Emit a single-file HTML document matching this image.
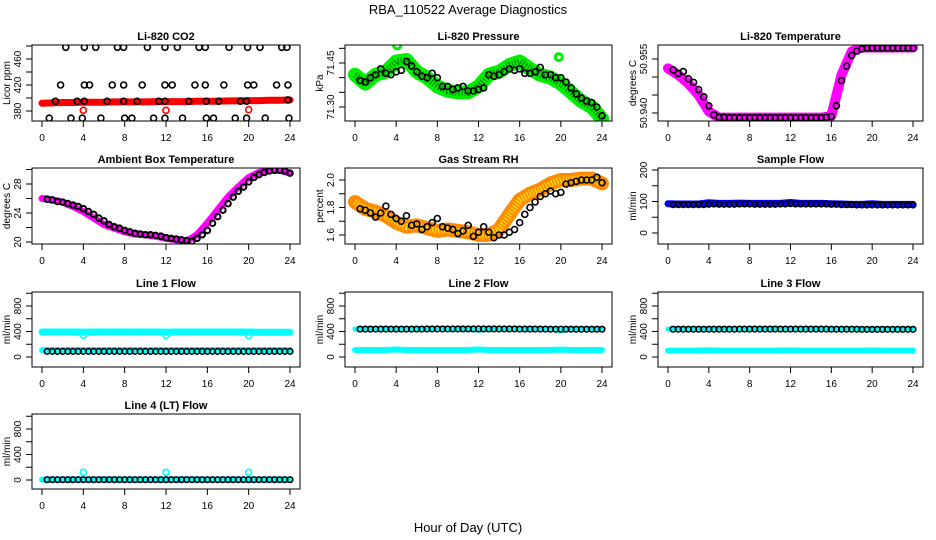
<!DOCTYPE html>
<html><head><meta charset="utf-8"><style>
body{margin:0;background:#fff;}
svg{display:block;font-family:"Liberation Sans",sans-serif;}
</style></head><body>
<svg id="chart" width="936" height="540" viewBox="0 0 936 540" xmlns="http://www.w3.org/2000/svg">
<rect width="936" height="540" fill="#fff"/>
<text x="468" y="14" text-anchor="middle" font-size="13">RBA_110522  Average Diagnostics</text>
<text x="468" y="532" text-anchor="middle" font-size="13">Hour of Day (UTC)</text>
</svg>
<script>
// ---- data ----
const xTicks = [0,4,8,12,16,20,24];
const trackHours = [0,1,2,3,4,5,6,7,8,9,10,11,12,13,14,15,16,17,18,19,20,21,22,23,24];
const blackHours = [0.5,1,1.5,2,2.5,3,3.5,4,4.5,5,5.5,6,6.5,7,7.5,8,8.5,9,9.5,10,10.5,11,11.5,12,12.5,13,13.5,14,14.5,15,15.5,16,16.5,17,17.5,18,18.5,19,19.5,20,20.5,21,21.5,22,22.5,23,23.5,24];

// CO2
const co2Track = [392,392.5,393,393,393.5,393.5,393.5,394,394,394,394,394.5,394.5,394.5,394.5,395,395,395,395.5,395.5,396,396,396.5,396.5,397];
const co2BlackHours = [2.3,4.1,5.2,7.3,7.9,10.2,11.9,13.1,15.2,15.8,18.1,19.9,21.1,23.2,23.7, 1.8,4.1,4.6,6.8,7.9,9.7,11.9,12.6,14.8,15.8,17.6,19.9,20.5,22.7,23.8, 1.3,3.4,4.1,6.3,7.9,9.2,11.3,11.9,14.2,15.9,17.1,19.2,19.8,23.8, 0.7,2.8,3.9,5.7,8.0,8.7,10.8,11.9,13.6,15.9,16.6,18.7,19.8,21.6,23.9];
const co2BlackVals = [478,478,478,478,478,478,478,478,478,478,478,478,478,478,478, 420,420,420,420,420,420,420,420,420,420,420,420,420,420,420, 395,395,395,395,395,395,395,395,395,395,395,395,395,397, 369,369,369,369,369,369,369,369,369,369,369,369,369,369,369];
const co2OutHours = [4,12,20];
const co2OutVals = [381,381,382];

// Pressure
const presTrack = [71.41,71.38,71.41,71.42,71.455,71.46,71.42,71.40,71.37,71.355,71.35,71.35,71.37,71.41,71.42,71.443,71.455,71.43,71.41,71.40,71.38,71.35,71.32,71.30,71.26];
const presBlack = [71.39,71.385,71.40,71.41,71.43,71.415,71.41,71.42,71.425,71.455,71.44,71.42,71.405,71.40,71.415,71.40,71.37,71.37,71.36,71.365,71.37,71.355,71.355,71.36,71.365,71.41,71.405,71.41,71.42,71.43,71.425,71.43,71.415,71.415,71.42,71.435,71.41,71.41,71.40,71.40,71.385,71.365,71.345,71.33,71.32,71.315,71.30,71.27];
const presOutHours = [4.1,19.8];
const presOutVals = [71.51,71.47];

// Li-820 temperature
const ltTrack = [50.9524,50.9506,50.9482,50.9450,50.9404,50.9387,50.9387,50.9387,50.9387,50.9387,50.9387,50.9387,50.9387,50.9387,50.9387,50.9387,50.9392,50.9506,50.9571,50.9582,50.9582,50.9582,50.9582,50.9582,50.9582];
const ltBlack = [50.9520,50.9510,50.9515,50.9495,50.9485,50.9465,50.9445,50.9420,50.9395,50.9388,50.9388,50.9387,50.9387,50.9387,50.9387,50.9387,50.9387,50.9387,50.9387,50.9387,50.9387,50.9387,50.9387,50.9387,50.9387,50.9387,50.9387,50.9387,50.9387,50.9387,50.9388,50.9390,50.9420,50.9490,50.9530,50.9560,50.9572,50.9578,50.9580,50.9580,50.9580,50.9580,50.9580,50.9580,50.9580,50.9580,50.9580,50.9580];

// Ambient box temperature
const ambTrack = [26.0,25.8,25.5,24.9,24.2,23.3,22.4,21.9,21.4,21.1,21.0,20.8,20.5,20.3,20.1,21.0,22.6,24.4,26.2,27.6,28.9,29.6,29.9,29.9,29.5];
const ambBlack = [25.9,25.8,25.6,25.5,25.3,25.1,24.9,24.6,24.2,23.8,23.3,22.9,22.4,22.1,21.9,21.6,21.4,21.2,21.1,21.0,21.0,20.9,20.8,20.6,20.5,20.4,20.3,20.2,20.1,20.5,21.0,21.6,22.6,23.5,24.4,25.3,26.2,27.0,27.6,28.3,28.9,29.3,29.6,29.8,29.9,29.9,29.8,29.5];

// Gas stream RH
const rhTrack = [1.84,1.79,1.77,1.74,1.69,1.66,1.67,1.65,1.63,1.64,1.63,1.62,1.60,1.60,1.64,1.75,1.855,1.90,1.93,1.975,2.0,2.0,2.01,2.01,1.975];
const rhBlack = [1.79,1.78,1.76,1.73,1.76,1.81,1.75,1.72,1.70,1.74,1.67,1.68,1.64,1.66,1.69,1.72,1.66,1.65,1.64,1.61,1.63,1.67,1.59,1.62,1.66,1.62,1.58,1.60,1.60,1.62,1.64,1.69,1.75,1.80,1.84,1.88,1.90,1.92,1.90,1.91,1.97,1.98,1.99,2.00,2.00,2.00,2.02,1.98];

// Sample flow
const sfTrack = [93,92,92,92,96,94,94,95,94,94,94,94,97,94,94,94,93,92,91,91,93,91,91,91,91];
const sfBlack = [90,90,90,90,90,90,90,91,92,91,91,91,91,92,92,92,91,91,91,91,91,92,92,93,92,92,92,92,92,92,92,91,91,90,90,90,89,89,89,89,89,89,89,89,89,89,89,89];

// Line flows
const l1Upper = [392,392,392,392,390,392,392,392,392,392,392,392,390,392,392,392,392,392,392,392,392,388,388,388,388];
const l1Lower = [108,108,108,108,108,108,108,108,108,108,108,108,108,108,108,108,108,108,108,108,108,108,108,108,108];
const l1Black = [88,88,88,88,88,88,88,88,88,88,88,88,88,88,88,88,88,88,88,88,88,88,88,88,88,88,88,88,88,88,88,88,88,88,88,88,88,88,88,88,88,88,88,88,88,88,88,88];
const l1DipHours = [4,12,20];
const l1DipVals = [340,340,335];

const l2Upper = [440,440,440,440,430,440,440,440,440,440,440,440,420,440,440,440,440,440,440,440,410,440,440,440,440];
const l2Lower = [110,110,110,110,118,110,110,110,110,110,110,110,118,110,110,110,110,110,110,110,115,110,110,110,110];
const l2Black = [438,438,438,438,438,438,438,438,438,438,438,438,438,440,440,440,440,440,440,440,440,440,440,440,440,440,440,440,440,440,440,438,438,438,438,438,438,436,436,436,436,436,436,436,436,436,436,436];

const l3Upper = [440,440,440,440,432,440,440,440,440,440,440,440,432,440,440,440,440,440,440,440,430,440,440,440,440];
const l3Lower = [100,100,100,100,106,100,100,100,100,100,100,100,106,100,100,100,100,100,100,100,104,100,100,100,100];
const l3Black = [436,436,436,436,436,436,436,436,436,436,436,436,436,438,438,438,438,438,438,438,438,438,438,438,438,438,438,438,438,438,438,436,436,436,436,436,436,434,434,434,434,434,434,434,434,434,434,434];

const l4Track = [5,5,5,5,5,5,5,5,5,5,5,5,5,5,5,5,5,5,5,5,5,5,5,5,5];
const l4Black = [5,5,5,5,5,5,5,5,5,5,5,5,5,5,5,5,5,5,5,5,5,5,5,5,5,5,5,5,5,5,5,5,5,5,5,5,5,5,5,5,5,5,5,5,5,5,5,5];
const l4OutHours = [4,12,20];
const l4OutVals = [120,120,120];

// ---- layout ----
const svg = document.getElementById('chart');
const NS = 'http://www.w3.org/2000/svg';
const cols = [{x0:42,x24:290,l:32,r:300},{x0:355,x24:602,l:345,r:612},{x0:668,x24:913,l:658,r:923}];
const rows = [{t:45,b:121},{t:168,b:244},{t:292,b:367},{t:414,b:489}];
function mk(tag, attrs, parent){const e=document.createElementNS(NS,tag);for(const k in attrs)e.setAttribute(k,attrs[k]);(parent||svg).appendChild(e);return e;}

function panel(cfg){
  const c=cols[cfg.col], r=rows[cfg.row];
  const g=mk('g',{});
  
  
  const xs=h=>c.x0+(c.x24-c.x0)*h/24;
  const ys=v=>cfg.py1+(cfg.py2-cfg.py1)*(v-cfg.v1)/(cfg.v2-cfg.v1);
  const t=mk('text',{x:(c.l+c.r)/2,y:r.t-5,'text-anchor':'middle','font-size':'11','font-weight':'bold'},g);
  t.textContent=cfg.title;
  
  
  const xa=mk('g',{stroke:'#000','stroke-width':1},g);
  
  
  mk('line',{x1:xs(0),x2:xs(24),y1:r.b,y2:r.b},xa);
  xTicks.forEach(v=>{
    mk('line',{x1:xs(v),x2:xs(v),y1:r.b,y2:r.b+6},xa);
    const tx=mk('text',{x:xs(v),y:r.b+20,'text-anchor':'middle','font-size':'10',stroke:'none'},xa);
    tx.textContent=v;
  });
  const ya=mk('g',{stroke:'#000','stroke-width':1},g);
  
  
  mk('line',{x1:c.l,x2:c.l,y1:ys(cfg.ticks[0]),y2:ys(cfg.ticks[cfg.ticks.length-1])},ya);
  cfg.ticks.forEach((v,i)=>{
    const y=ys(v);
    mk('line',{x1:c.l-6,x2:c.l,y1:y,y2:y},ya);
    if(cfg.labels[i]!==''){
      const tx=mk('text',{x:c.l-11,y:y,'text-anchor':'middle','font-size':'10',stroke:'none',transform:`rotate(-90 ${c.l-11} ${y})`},ya);
      tx.textContent=cfg.labels[i];
    }
  });
  const yt=mk('text',{x:c.l-22,y:(r.t+r.b)/2,'text-anchor':'middle','font-size':'10',transform:`rotate(-90 ${c.l-22} ${(r.t+r.b)/2})`},g);
  yt.textContent=cfg.ylab;
  
  
  const cid='clip'+cfg.name;
  const cp=mk('clipPath',{id:cid},g);mk('rect',{x:c.l,y:r.t,width:c.r-c.l,height:r.b-r.t},cp);
  const dg=mk('g',{'clip-path':`url(#${cid})`},g);
  (cfg.series||[]).forEach(s=>{
    if(s.type==='band'){
      const pts=s.hours.map((h,i)=>xs(h)+','+ys(s.vals[i])).join(' ');
      const pl=mk('polyline',{points:pts,fill:'none',stroke:s.color,'stroke-width':s.w,'stroke-linejoin':'round','stroke-linecap':'round'},dg);
      
      
      if(s.dot){
        const pl2=mk('polyline',{points:pts,fill:'none',stroke:s.dot,'stroke-width':s.w*0.5,'stroke-dasharray':'1 2','stroke-linejoin':'round'},dg);
        
        
      }
    } else {
      s.hours.forEach((h,i)=>{
        if(s.vals[i]===undefined) return;
        const ci=mk('circle',{cx:xs(h),cy:ys(s.vals[i]),r:s.r||3,fill:'none',stroke:s.color,'stroke-width':s.sw||1.6},dg);
        
        
      });
    }
  });
  const box=mk('rect',{x:c.l,y:r.t,width:c.r-c.l,height:r.b-r.t,fill:'none',stroke:'#000','stroke-width':1},g);
  
  
}

const flowTicks=[0,200,400,600,800,1000], flowLabels=['0','','400','','800',''];
panel({name:'co2-panel',title:'Li-820 CO2',ylab:'Licor ppm',col:0,row:0,v1:380,v2:460,py1:111,py2:59,ticks:[380,400,420,440,460,480],labels:['380','','420','','460',''],
  series:[{type:'band',hours:trackHours,vals:co2Track,color:'#ff0000',w:7,name:'co2-band'},
    {type:'pts',hours:co2OutHours,vals:co2OutVals,color:'#ff0000',name:'co2-outlier'},
    {type:'pts',hours:co2BlackHours,vals:co2BlackVals,color:'#000',name:'co2-point'}]});
panel({name:'pressure-panel',title:'Li-820 Pressure',ylab:'kPa',col:1,row:0,v1:71.30,v2:71.45,py1:107,py2:63,ticks:[71.30,71.35,71.40,71.45,71.50],labels:['71.30','','','71.45',''],
  series:[{type:'band',hours:trackHours,vals:presTrack,color:'#00ee00',dot:'#007700',w:14,name:'pressure-band'},
    {type:'pts',hours:presOutHours,vals:presOutVals,color:'#00ee00',r:3.5,sw:3,name:'pressure-outlier'},
    {type:'pts',hours:blackHours,vals:presBlack,color:'#000',name:'pressure-point'}]});
panel({name:'li820-temp-panel',title:'Li-820 Temperature',ylab:'degrees C',col:2,row:0,v1:50.940,v2:50.955,py1:113,py2:59,ticks:[50.940,50.945,50.950,50.955],labels:['50.940','','','50.955'],
  series:[{type:'band',hours:trackHours,vals:ltTrack,color:'#ff00ff',w:10,name:'li820-temp-band'},
    {type:'pts',hours:blackHours,vals:ltBlack,color:'#000',name:'li820-temp-point'}]});
panel({name:'ambient-panel',title:'Ambient Box Temperature',ylab:'degrees C',col:0,row:1,v1:20,v2:28,py1:242,py2:184,ticks:[20,22,24,26,28,30],labels:['20','','24','','28',''],
  series:[{type:'band',hours:trackHours,vals:ambTrack,color:'#ff00ff',w:7,name:'ambient-band'},
    {type:'pts',hours:blackHours,vals:ambBlack,color:'#000',r:2.8,sw:2,name:'ambient-point'}]});
panel({name:'rh-panel',title:'Gas Stream RH',ylab:'percent',col:1,row:1,v1:1.6,v2:2.0,py1:235,py2:180,ticks:[1.6,1.7,1.8,1.9,2.0],labels:['1.6','','1.8','','2.0'],
  series:[{type:'band',hours:trackHours,vals:rhTrack,color:'#ff8c00',dot:'#ffee00',w:14,name:'rh-band'},
    {type:'pts',hours:blackHours,vals:rhBlack,color:'#000',name:'rh-point'}]});
panel({name:'sample-flow-panel',title:'Sample Flow',ylab:'ml/min',col:2,row:1,v1:0,v2:200,py1:233,py2:170,ticks:[0,50,100,150,200],labels:['0','','100','','200'],
  series:[{type:'band',hours:trackHours,vals:sfTrack,color:'#0000ff',w:7,name:'sample-flow-band'},
    {type:'pts',hours:blackHours,vals:sfBlack,color:'#000',r:2.8,name:'sample-flow-point'}]});
panel({name:'line1-panel',title:'Line 1 Flow',ylab:'ml/min',col:0,row:2,v1:0,v2:800,py1:357,py2:306,ticks:flowTicks,labels:flowLabels,
  series:[{type:'band',hours:trackHours,vals:l1Upper,color:'#00ffff',w:7,name:'line1-upper-band'},
    {type:'pts',hours:l1DipHours,vals:l1DipVals,color:'#00ffff',name:'line1-dip'},
    {type:'band',hours:trackHours,vals:l1Lower,color:'#00ffff',w:6,name:'line1-lower-band'},
    {type:'pts',hours:blackHours,vals:l1Black,color:'#000',r:2.8,name:'line1-point'}]});
panel({name:'line2-panel',title:'Line 2 Flow',ylab:'ml/min',col:1,row:2,v1:0,v2:800,py1:357,py2:306,ticks:flowTicks,labels:flowLabels,
  series:[{type:'band',hours:trackHours,vals:l2Upper,color:'#00ffff',w:5,name:'line2-upper-band'},
    {type:'band',hours:trackHours,vals:l2Lower,color:'#00ffff',w:6,name:'line2-lower-band'},
    {type:'pts',hours:blackHours,vals:l2Black,color:'#000',r:2.8,name:'line2-point'}]});
panel({name:'line3-panel',title:'Line 3 Flow',ylab:'ml/min',col:2,row:2,v1:0,v2:800,py1:357,py2:306,ticks:flowTicks,labels:flowLabels,
  series:[{type:'band',hours:trackHours,vals:l3Upper,color:'#00ffff',w:5,name:'line3-upper-band'},
    {type:'band',hours:trackHours,vals:l3Lower,color:'#00ffff',w:6,name:'line3-lower-band'},
    {type:'pts',hours:blackHours,vals:l3Black,color:'#000',r:2.8,name:'line3-point'}]});
panel({name:'line4-panel',title:'Line 4 (LT) Flow',ylab:'ml/min',col:0,row:3,v1:0,v2:800,py1:480,py2:429,ticks:flowTicks,labels:flowLabels,
  series:[{type:'band',hours:trackHours,vals:l4Track,color:'#00ffff',w:6,name:'line4-band'},
    {type:'pts',hours:l4OutHours,vals:l4OutVals,color:'#00ffff',name:'line4-outlier'},
    {type:'pts',hours:blackHours,vals:l4Black,color:'#000',r:2.8,name:'line4-point'}]});
</script>
</body></html>
